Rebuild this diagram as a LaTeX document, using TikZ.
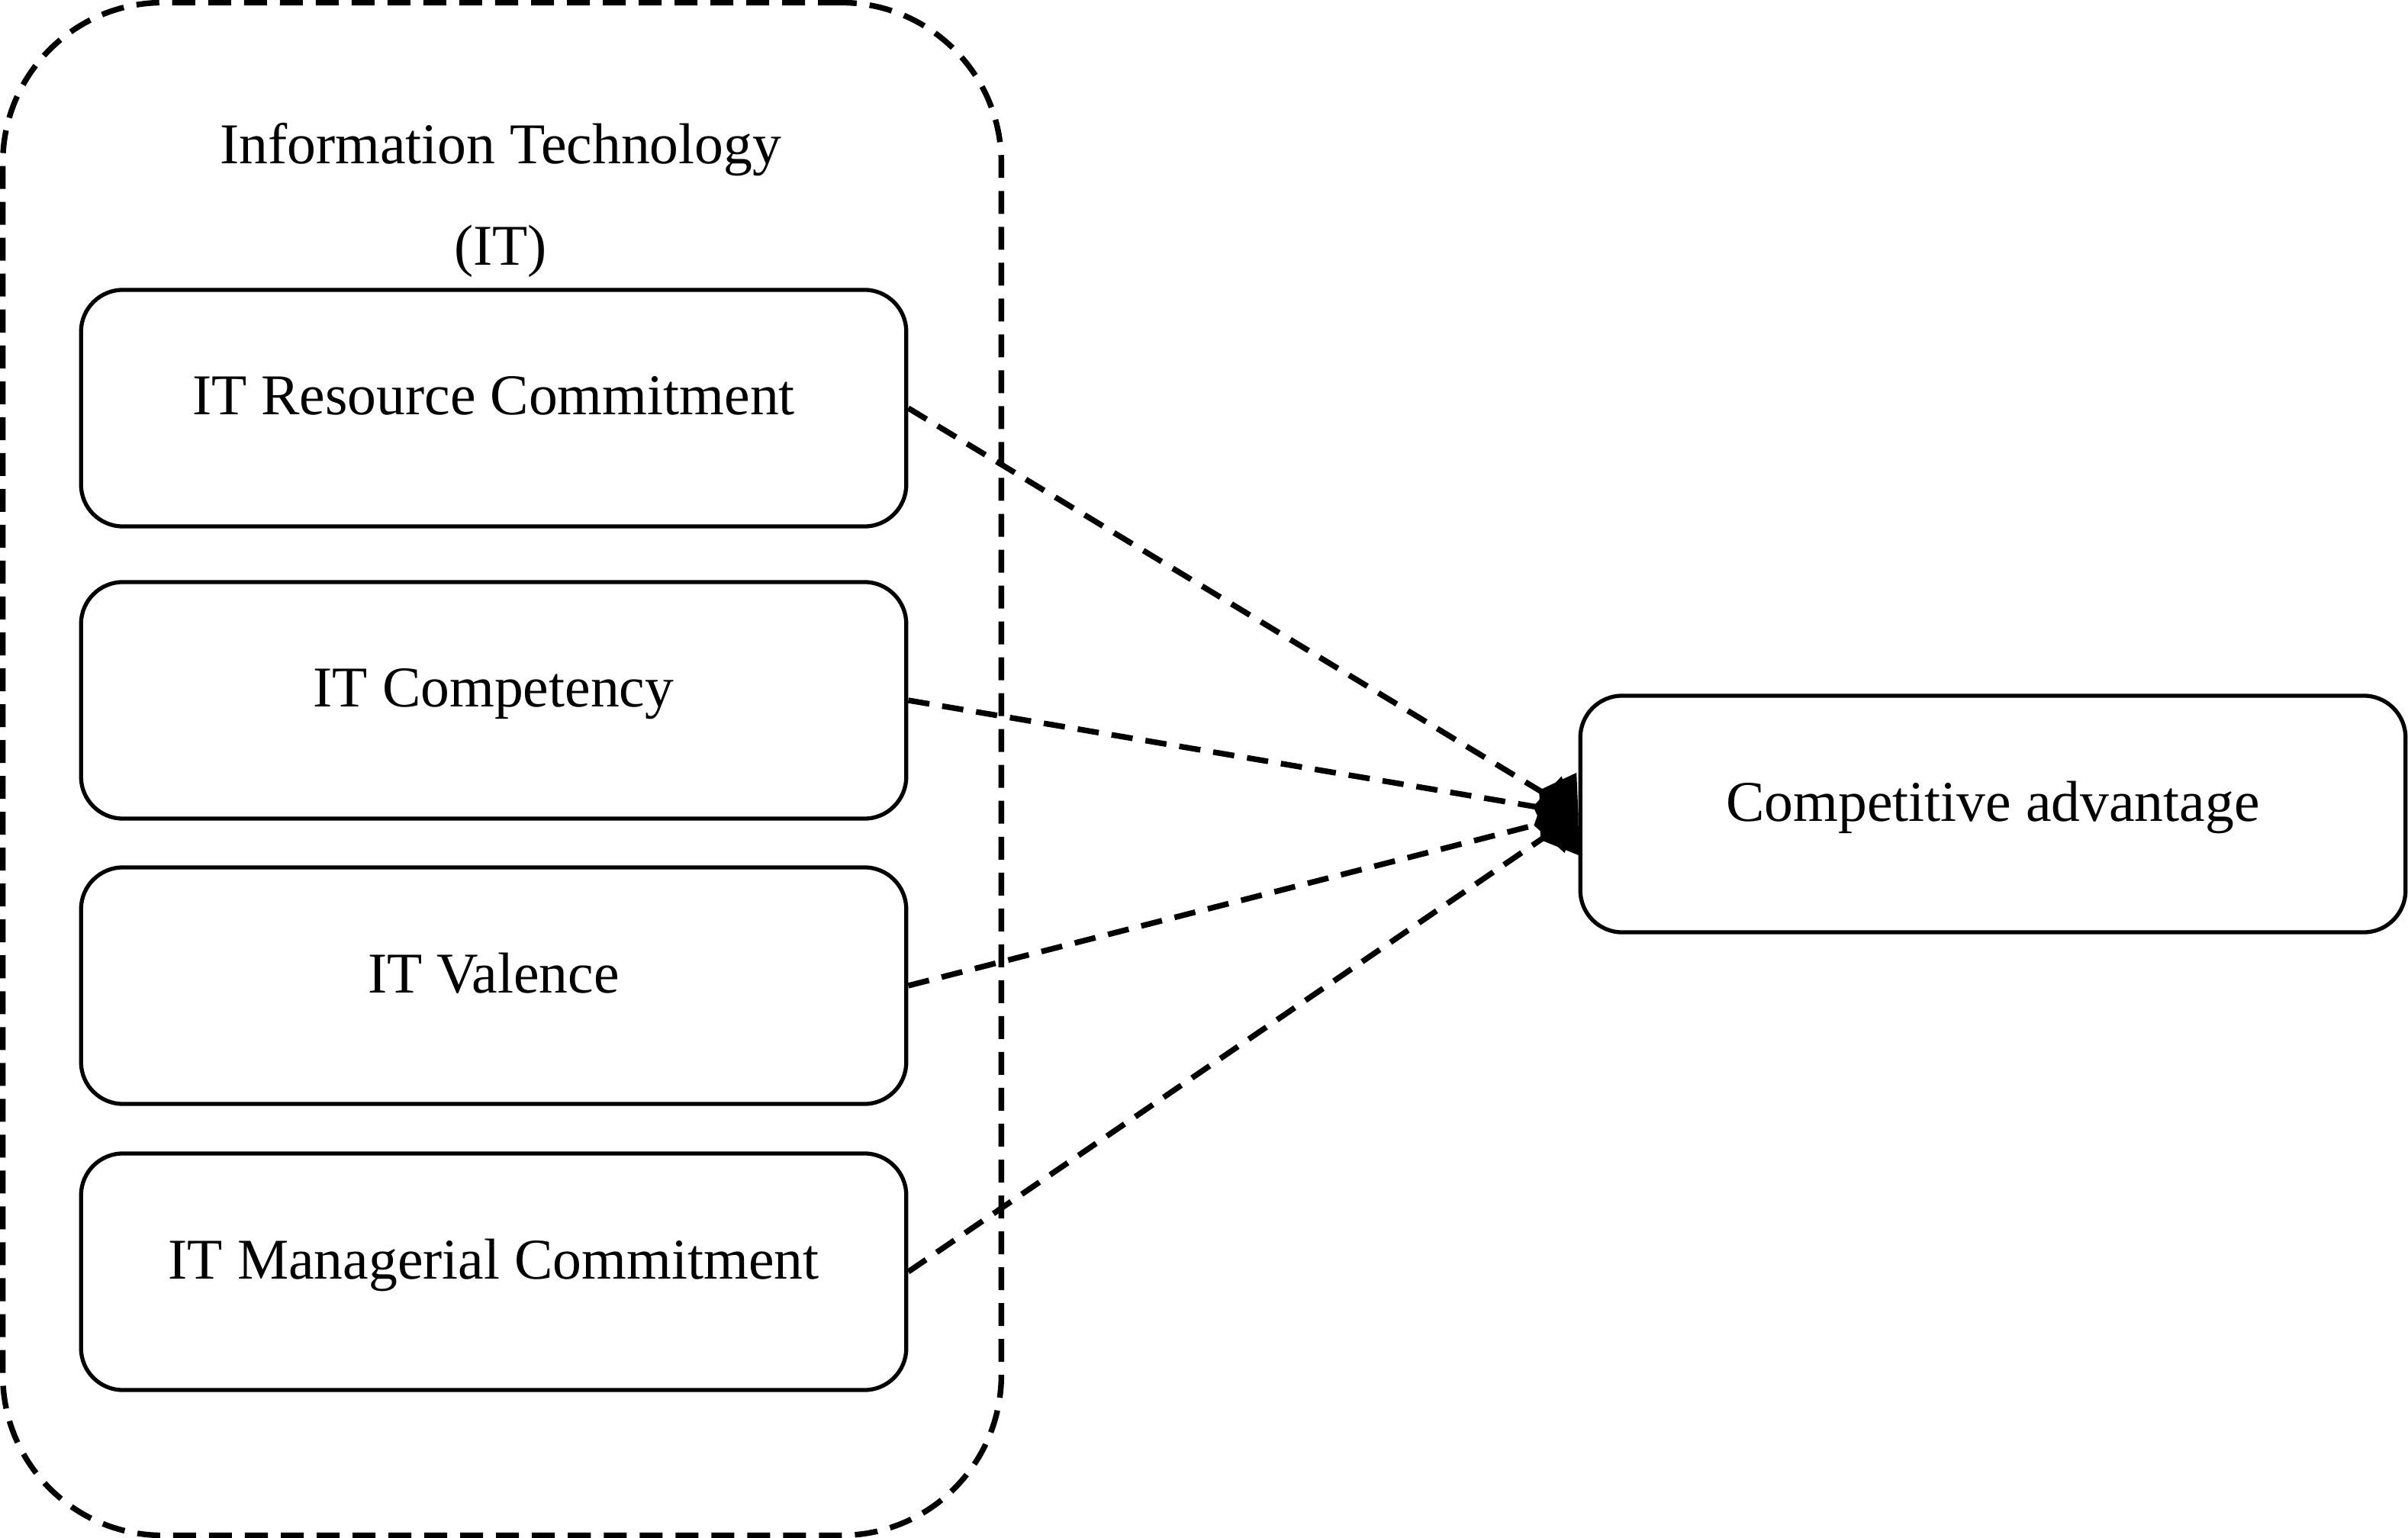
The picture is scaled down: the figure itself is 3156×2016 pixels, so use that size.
\documentclass[tikz,border=0pt]{standalone}
\usepackage{fontspec}
\setmainfont{Liberation Serif}
\usetikzlibrary{arrows.meta}

\begin{document}
\begin{tikzpicture}[x=0.01cm,y=-0.01cm,->,>={Diamond[length=0.6cm,width=0.9cm]},
      every node/.style={font=\fontsize{21.5}{26}\selectfont},
      box/.style={draw,rounded corners=0.55cm,line width=1.5pt,
        minimum width=10.81cm,minimum height=3.1cm,inner sep=0pt,
        text height=0.52cm,text depth=0.34cm},
      group/.style={draw,dash pattern=on 0.3cm off 0.17cm,line width=2.1pt,
        rounded corners=2.1cm,minimum width=13.08cm,minimum height=20.08cm},
      link/.style={dash pattern=on 0.28cm off 0.17cm,line width=2.1pt}]
      \useasboundingbox (0,0) rectangle (3156,2016);
      \node[group] (it) at (658,1008) {};
      \node[anchor=base] (ittitle) at (656,215) {Information Technology};
      \node[anchor=base] (itshort) at (656,348) {(IT)};
      \node[box] (res) at (647,535) {IT Resource Commitment};
      \node[box] (comp) at (647,918) {IT Competency};
      \node[box] (val) at (647,1292) {IT Valence};
      \node[box] (man) at (647,1667) {IT Managerial Commitment};
      \node[box] (adv) at (2612,1067) {Competitive advantage};

      \path[link]
      (res.east) edge (adv.west)
      (comp.east) edge (adv.west)
      (val.east) edge (adv.west)
      (man.east) edge (adv.west)
      ;
\end{tikzpicture}
\end{document}
